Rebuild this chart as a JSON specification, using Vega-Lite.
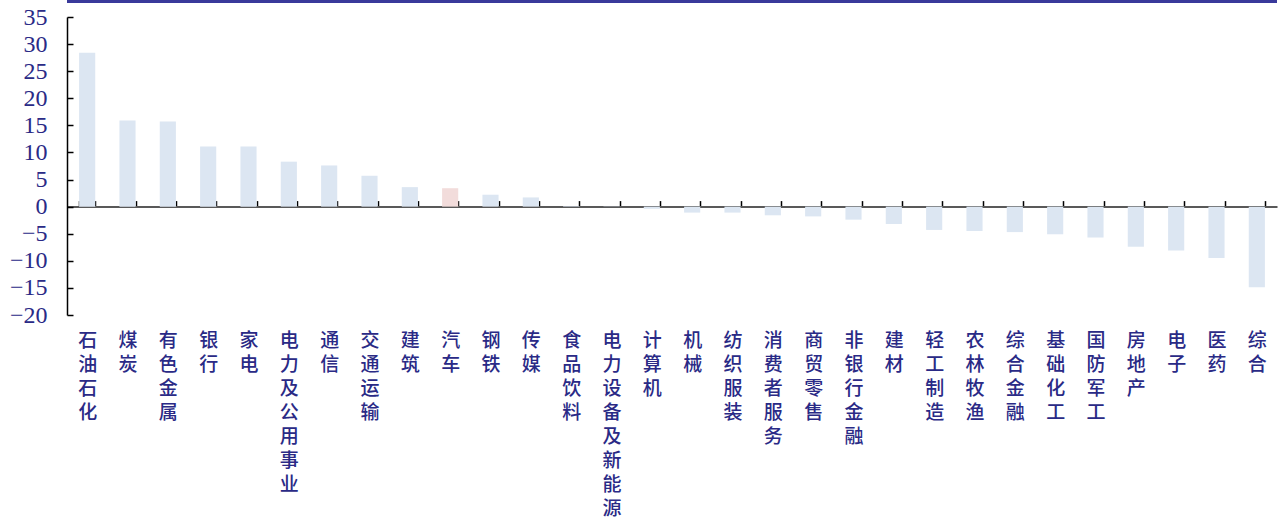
{
  "$schema": "https://vega.github.io/schema/vega-lite/v6.json",
  "width": 1210,
  "height": 298,
  "autosize": {"type": "none"},
  "padding": {"left": 67, "top": 17, "right": 1, "bottom": 204},
  "background": "white",
  "config": {
    "view": {"stroke": null},
    "axisY": {
      "labelOverlap": false,
      "grid": false,
      "domainColor": "#000000",
      "domainWidth": 1.5,
      "tickSize": -6,
      "tickColor": "#000000",
      "tickWidth": 1.5,
      "labelFont": "Liberation Serif",
      "labelFontSize": 24,
      "labelColor": "#2a2a86",
      "labelPadding": 26
    }
  },
  "data": {
    "values": [
      {"industry": "石油石化", "value": 28.4, "highlight": "no"},
      {"industry": "煤炭", "value": 15.9, "highlight": "no"},
      {"industry": "有色金属", "value": 15.7, "highlight": "no"},
      {"industry": "银行", "value": 11.1, "highlight": "no"},
      {"industry": "家电", "value": 11.1, "highlight": "no"},
      {"industry": "电力及公用事业", "value": 8.3, "highlight": "no"},
      {"industry": "通信", "value": 7.6, "highlight": "no"},
      {"industry": "交通运输", "value": 5.7, "highlight": "no"},
      {"industry": "建筑", "value": 3.6, "highlight": "no"},
      {"industry": "汽车", "value": 3.4, "highlight": "yes"},
      {"industry": "钢铁", "value": 2.2, "highlight": "no"},
      {"industry": "传媒", "value": 1.7, "highlight": "no"},
      {"industry": "食品饮料", "value": 0.1, "highlight": "no"},
      {"industry": "电力设备及新能源", "value": 0.05, "highlight": "no"},
      {"industry": "计算机", "value": -0.4, "highlight": "no"},
      {"industry": "机械", "value": -1.1, "highlight": "no"},
      {"industry": "纺织服装", "value": -1.1, "highlight": "no"},
      {"industry": "消费者服务", "value": -1.6, "highlight": "no"},
      {"industry": "商贸零售", "value": -1.8, "highlight": "no"},
      {"industry": "非银行金融", "value": -2.4, "highlight": "no"},
      {"industry": "建材", "value": -3.2, "highlight": "no"},
      {"industry": "轻工制造", "value": -4.3, "highlight": "no"},
      {"industry": "农林牧渔", "value": -4.5, "highlight": "no"},
      {"industry": "综合金融", "value": -4.7, "highlight": "no"},
      {"industry": "基础化工", "value": -5.1, "highlight": "no"},
      {"industry": "国防军工", "value": -5.7, "highlight": "no"},
      {"industry": "房地产", "value": -7.4, "highlight": "no"},
      {"industry": "电子", "value": -8.1, "highlight": "no"},
      {"industry": "医药", "value": -9.5, "highlight": "no"},
      {"industry": "综合", "value": -14.9, "highlight": "no"}
    ]
  },
  "layer": [
    {
      "mark": {"type": "bar"},
      "encoding": {
        "x": {
          "field": "industry",
          "type": "nominal",
          "sort": null,
          "scale": {"paddingInner": 0.6, "paddingOuter": 0.3},
          "axis": {
            "title": null,
            "orient": "bottom",
            "offset": -108.4,
            "domainColor": "#595959",
            "domainWidth": 2,
            "ticks": true,
            "tickBand": "extent",
            "tickSize": -6,
            "tickColor": "#000000",
            "tickWidth": 1.5,
            "labelAngle": 0,
            "labelOverlap": false,
            "labelExpr": "split(datum.label, '')",
            "labelFont": "Noto Sans CJK SC",
            "labelFontSize": 19,
            "labelFontWeight": 500,
            "labelLineHeight": 24,
            "labelColor": "#2a2a86",
            "labelBaseline": "top",
            "labelPadding": 131,
            "labelLimit": 0
          }
        },
        "y": {
          "field": "value",
          "type": "quantitative",
          "scale": {"domain": [-20, 35], "nice": false, "zero": false},
          "axis": {
            "title": null,
            "values": [-20, -15, -10, -5, 0, 5, 10, 15, 20, 25, 30, 35]
          }
        },
        "color": {
          "field": "highlight",
          "type": "nominal",
          "scale": {"domain": ["no", "yes"], "range": ["#DCE6F2", "#F2DCDB"]},
          "legend": null
        }
      }
    },
    {
      "mark": {"type": "rule", "color": "#3a3a9a", "strokeWidth": 2, "clip": false},
      "encoding": {
        "y": {
          "datum": 37.9,
          "type": "quantitative",
          "axis": {
            "title": null,
            "values": [-20, -15, -10, -5, 0, 5, 10, 15, 20, 25, 30, 35]
          }
        }
      }
    }
  ]
}
